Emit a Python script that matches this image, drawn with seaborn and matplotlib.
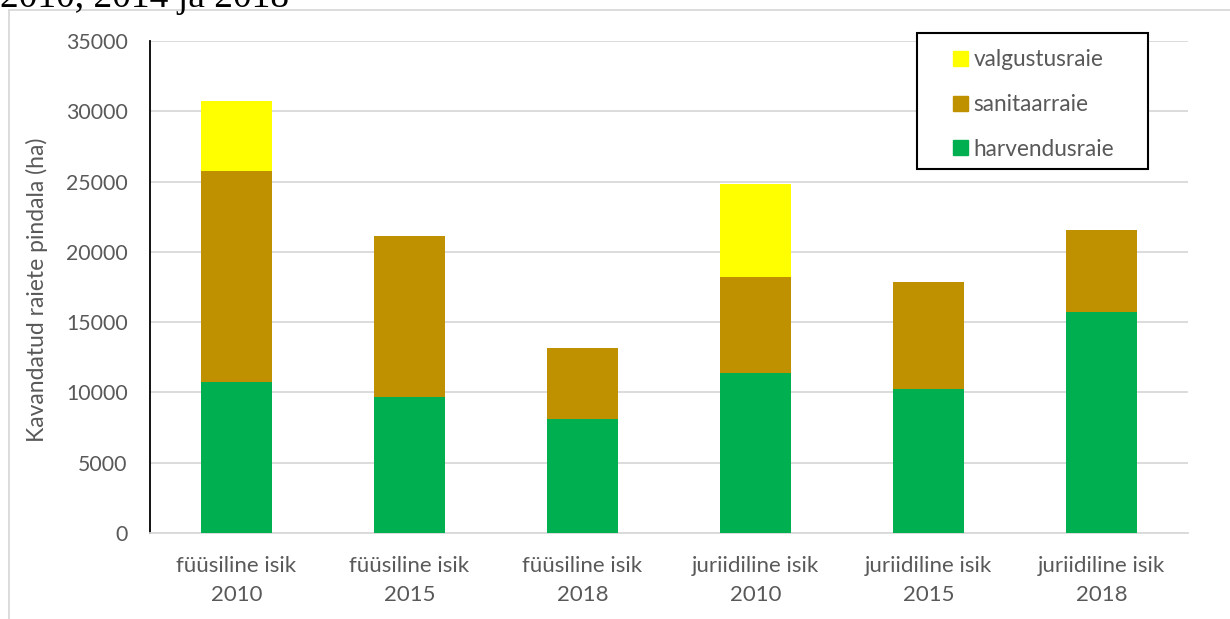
import numpy as np
import pandas as pd
import matplotlib
matplotlib.use("Agg")
import matplotlib.pyplot as plt
import seaborn as sns
from matplotlib.patches import Patch, Rectangle
from matplotlib.lines import Line2D

# andmed (ha)
categories = ["füüsiline isik\n2010", "füüsiline isik\n2015", "füüsiline isik\n2018",
              "juriidiline isik\n2010", "juriidiline isik\n2015", "juriidiline isik\n2018"]
harvendusraie = [10740, 9670, 8110, 11380, 10240, 15720]
sanitaarraie = [15010, 11450, 5050, 6830, 7610, 5830]
valgustusraie = [4980, 0, 0, 6610, 0, 0]

c_harv = "#00B050"
c_san = "#BF9000"
c_valg = "#FFFF00"
txt = "#595959"

sns.set_theme(style="white")
plt.rcParams["font.family"] = ["Lato", "DejaVu Sans"]

df = pd.DataFrame({
    "kategooria": categories,
    "harv": harvendusraie,
    "san": sanitaarraie,
    "valg": valgustusraie,
})
df["lvl1"] = df["harv"]
df["lvl2"] = df["harv"] + df["san"]
df["lvl3"] = df["lvl2"] + df["valg"]

W, H = 1230, 619
fig = plt.figure(figsize=(W / 100, H / 100), dpi=100)
ax = fig.add_axes([150 / W, 1 - 533 / H, (1188 - 150) / W, (533 - 41) / H])

# virnastatud tulbad: kõige kõrgem enne
for col, color in [("lvl3", c_valg), ("lvl2", c_san), ("lvl1", c_harv)]:
    sns.barplot(data=df, x="kategooria", y=col, color=color, width=0.405,
                saturation=1, ax=ax, zorder=3, linewidth=0)

ax.set_ylim(0, 35000)
ax.set_xlim(-0.5, 5.5)
ax.set_yticks(np.arange(0, 35001, 5000))
ax.yaxis.grid(True, color="#D9D9D9", linewidth=1.3, zorder=0)
ax.set_axisbelow(True)
for s in ["top", "right"]:
    ax.spines[s].set_visible(False)
ax.spines["left"].set_color("black")
ax.spines["left"].set_linewidth(1.3)
ax.spines["bottom"].set_color("#D9D9D9")
ax.spines["bottom"].set_linewidth(1.3)

ax.tick_params(axis="y", length=0, pad=16, labelsize=15.3, labelcolor=txt)
ax.tick_params(axis="x", length=0, pad=16.5, labelsize=16, labelcolor=txt)
for t in ax.get_xticklabels():
    t.set_linespacing(1.58)

ax.set_xlabel("")
ax.set_ylabel("Kavandatud raiete pindala (ha)", fontsize=16.5, color=txt)
ax.yaxis.set_label_coords(-0.098, 0.494)

# legend
fig.patches.append(Rectangle((917 / W, 1 - 169 / H), 231 / W, 136 / H,
                             transform=fig.transFigure, facecolor="white",
                             edgecolor="black", linewidth=1.5, zorder=2))
handles = [Patch(color=c_valg), Patch(color=c_san), Patch(color=c_harv)]
labels = ["valgustusraie", "sanitaarraie", "harvendusraie"]
leg = fig.legend(handles, labels, loc="upper left",
                 bbox_to_anchor=(942 / W, 1 - 38 / H), frameon=False,
                 fontsize=16.3, labelcolor=txt, handlelength=0.63, handleheight=0.63,
                 handletextpad=0.25, labelspacing=1.05, borderpad=0)
leg.set_zorder(5)

# välimine raam
fig.add_artist(Line2D([9 / W, 9 / W], [0, 1 - 10 / H], transform=fig.transFigure,
                      color="#D9D9D9", linewidth=1.3))
fig.add_artist(Line2D([9 / W, 1], [1 - 10 / H, 1 - 10 / H], transform=fig.transFigure,
                      color="#D9D9D9", linewidth=1.3))

# osaliselt nähtav pealkiri
fig.text(0.0, 1 - 7 / H, "2010, 2014 ja 2018", fontsize=27,
         family=["Liberation Serif", "DejaVu Serif"], color="black", va="baseline")

fig.savefig("out.png", dpi=100)
